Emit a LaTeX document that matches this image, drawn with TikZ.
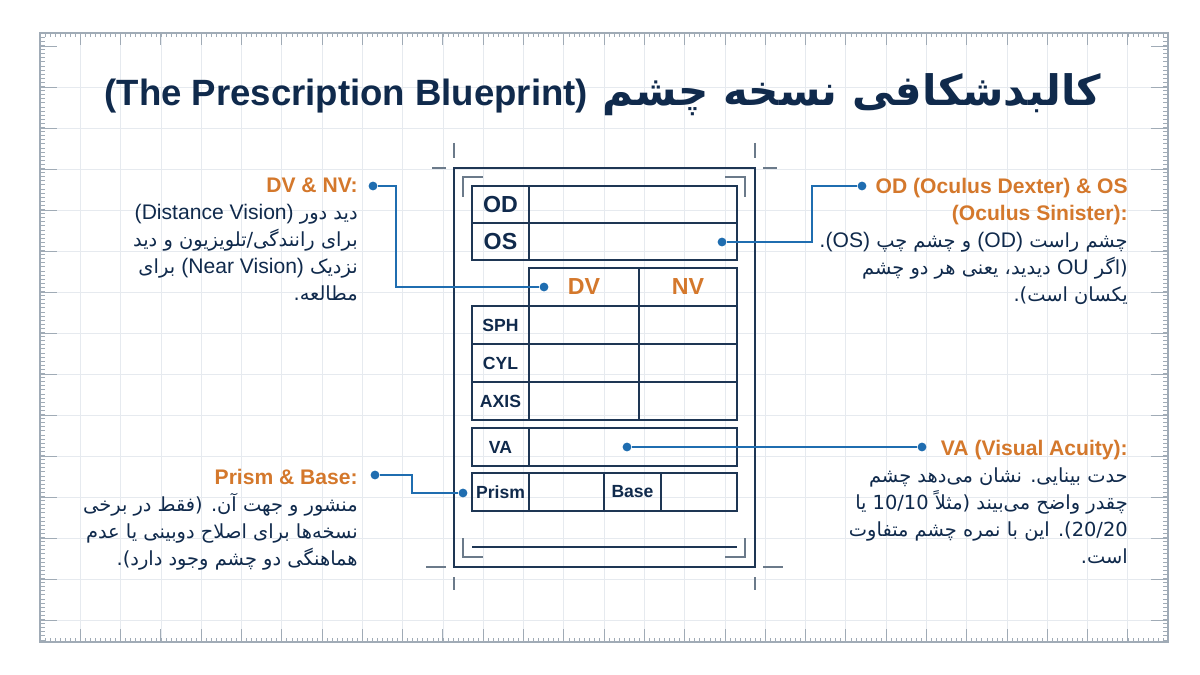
\documentclass[tikz,border=0pt]{standalone}
\usepackage{fontspec}
\setmainfont{Liberation Sans}
\newfontfamily\fa[Script=Arabic,Scale=0.92]{DejaVu Sans}
\newfontfamily\fatitle[Script=Arabic,Scale=1.15]{DejaVu Sans}
\TeXXeTstate=1

\definecolor{inkblue}{HTML}{102A4C}
\definecolor{formline}{HTML}{1E3654}
\definecolor{accent}{HTML}{D4782C}
\definecolor{linkblue}{HTML}{1F6DB0}
\definecolor{gridgray}{HTML}{E6EAEF}
\definecolor{rulergray}{HTML}{A0ABB6}
\definecolor{markgray}{HTML}{6B7A8A}

% latin run inside persian line, one persian line, one heading line
\newcommand{\en}[1]{\beginL{\rmfamily #1}\endL}
\newcommand{\faline}[1]{{\fa\beginR #1\endR}}
\newcommand{\headline}[1]{{\color{accent}\bfseries\beginL #1\endL}}

\begin{document}
\begin{tikzpicture}[x=0.025cm, y=-0.025cm,
  form/.style={draw=formline, line width=1.4pt},
  cell/.style={draw=formline, line width=1.1pt},
  crop/.style={draw=markgray, line width=0.8pt},
  link/.style={draw=linkblue, line width=1.2pt},
  dot/.style={circle, fill=linkblue, inner sep=0pt, minimum size=0.22cm},
  fieldlabel/.style={text=inkblue, font=\fontsize{12.5}{14}\selectfont\bfseries},
  bigfield/.style={text=inkblue, font=\fontsize{16.5}{18}\selectfont\bfseries},
  colhead/.style={text=accent, font=\fontsize{16.5}{18}\selectfont\bfseries},
  note/.style={text=inkblue, align=right, inner sep=0pt, anchor=north east,
    font={\fontsize{15}{19.2}\selectfont\lineskiplimit=-30pt}},
]
  \fill[white] (0,0) rectangle (1200,675);
  \useasboundingbox (0,0) rectangle (1200,675);

  % grid paper and rulers
  \foreach \i in {1,...,27}
    \draw[gridgray, line width=0.5pt] ({40+40.29*\i},33) -- ({40+40.29*\i},642);
  \foreach \k in {0,...,13}
    \draw[gridgray, line width=0.5pt] (40,{87+41*\k}) -- (1168,{87+41*\k});
  \draw[rulergray, line width=0.8pt] (40,33) rectangle (1168,642);
  \foreach \i in {0,...,224} {
    \draw[rulergray, line width=0.4pt] ({40+5.036*\i},33) -- ++(0,4.5);
    \draw[rulergray, line width=0.4pt] ({40+5.036*\i},642) -- ++(0,-4.5);
  }
  \foreach \i in {0,...,28} {
    \draw[rulergray, line width=0.6pt] ({40+40.29*\i},33) -- ++(0,12);
    \draw[rulergray, line width=0.6pt] ({40+40.29*\i},642) -- ++(0,-13);
  }
  \foreach \i in {0,...,148} {
    \draw[rulergray, line width=0.4pt] (40,{33+4.1*\i}) -- ++(5,0);
    \draw[rulergray, line width=0.4pt] (1168,{33+4.1*\i}) -- ++(-5,0);
  }
  \foreach \k in {-1,...,13} {
    \draw[rulergray, line width=0.6pt] (40,{87+41*\k}) -- ++(17,0);
    \draw[rulergray, line width=0.6pt] (1168,{87+41*\k}) -- ++(-17,0);
  }

  % title
  \node[anchor=base, text=inkblue, font=\fontsize{26}{30}\selectfont\bfseries] (title) at (603,106)
    {{\fatitle\beginR کالبدشکافی نسخه چشم \en{(The Prescription Blueprint)}\endR}};

  % prescription form
  \draw[form] (454,168) rectangle (755,567);
  \draw[crop] (454,143) -- (454,158) (755,143) -- (755,158)
              (454,577) -- (454,590) (755,577) -- (755,590)
              (432,168) -- (446,168) (763,168) -- (777,168)
              (426,567) -- (446,567) (763,567) -- (783,567);
  \draw[crop] (463,197) |- (483,177) (725,177) -| (745,197)
              (463,538) |- (483,557) (725,557) -| (745,538);
  \draw[cell] (472,186) rectangle (737,260) (472,223) -- (737,223) (529,186) -- (529,260);
  \draw[cell] (529,268) rectangle (737,306) (639,268) -- (639,306);
  \draw[cell] (472,306) rectangle (737,420) (472,344) -- (737,344) (472,382) -- (737,382)
              (529,306) -- (529,420) (639,306) -- (639,420);
  \draw[cell] (472,428) rectangle (737,466) (529,428) -- (529,466);
  \draw[cell] (472,473) rectangle (737,511) (529,473) -- (529,511)
              (604,473) -- (604,511) (661,473) -- (661,511);
  \draw[cell] (472,547) -- (737,547);

  \node[bigfield] (od) at (500.5,204.5) {OD};
  \node[bigfield] (os) at (500.5,241.5) {OS};
  \node[colhead] (dv) at (584,287) {DV};
  \node[colhead] (nv) at (688,287) {NV};
  \node[fieldlabel] (sph) at (500.5,325) {SPH};
  \node[fieldlabel] (cyl) at (500.5,363) {CYL};
  \node[fieldlabel] (axis) at (500.5,401) {AXIS};
  \node[fieldlabel] (va) at (500.5,447) {VA};
  \node[fieldlabel] (prism) at (500.5,492) {Prism};
  \node[fieldlabel] (base) at (632.5,492) {Base};

  % notes
  \node[note] (dvnote) at (358,178) {\headline{DV \& NV:}\\
    \faline{دید دور \en{(Distance Vision)}}\\
    \faline{برای رانندگی/تلویزیون و دید}\\
    \faline{نزدیک \en{(Near Vision)} برای}\\
    \faline{مطالعه.}};
  \node[note] (odnote) at (1128,178) {\headline{OD (Oculus Dexter) \& OS}\\
    \headline{(Oculus Sinister):}\\
    \faline{چشم راست \en{(OD)} و چشم چپ \en{(OS)}.}\\
    \faline{(اگر \en{OU} دیدید، یعنی هر دو چشم}\\
    \faline{یکسان است).}};
  \node[note] (vanote) at (1128,440) {\headline{VA (Visual Acuity):}\\
    \faline{حدت بینایی. نشان می^^^^200cدهد چشم}\\
    \faline{چقدر واضح می^^^^200cبیند (مثلاً 10/10 یا}\\
    \faline{20/20). این با نمره چشم متفاوت}\\
    \faline{است.}};
  \node[note] (prismnote) at (358,469) {\headline{Prism \& Base:}\\
    \faline{منشور و جهت آن. (فقط در برخی}\\
    \faline{نسخه^^^^200cها برای اصلاح دوبینی یا عدم}\\
    \faline{هماهنگی دو چشم وجود دارد).}};

  % connectors
  \node[dot] (dvhead) at (373,186) {};
  \node[dot] (dvfield) at (544,287) {};
  \draw[link] (dvhead) -- ++(23,0) |- (dvfield);
  \node[dot] (odhead) at (862,186) {};
  \node[dot] (osfield) at (722,242) {};
  \draw[link] (odhead) -- ++(-50,0) |- (osfield);
  \node[dot] (vahead) at (922,447) {};
  \node[dot] (vafield) at (627,447) {};
  \draw[link] (vahead) -- (vafield);
  \node[dot] (prismhead) at (375,475) {};
  \node[dot] (prismfield) at (463,493) {};
  \draw[link] (prismhead) -- ++(37,0) |- (prismfield);
\end{tikzpicture}
\end{document}
